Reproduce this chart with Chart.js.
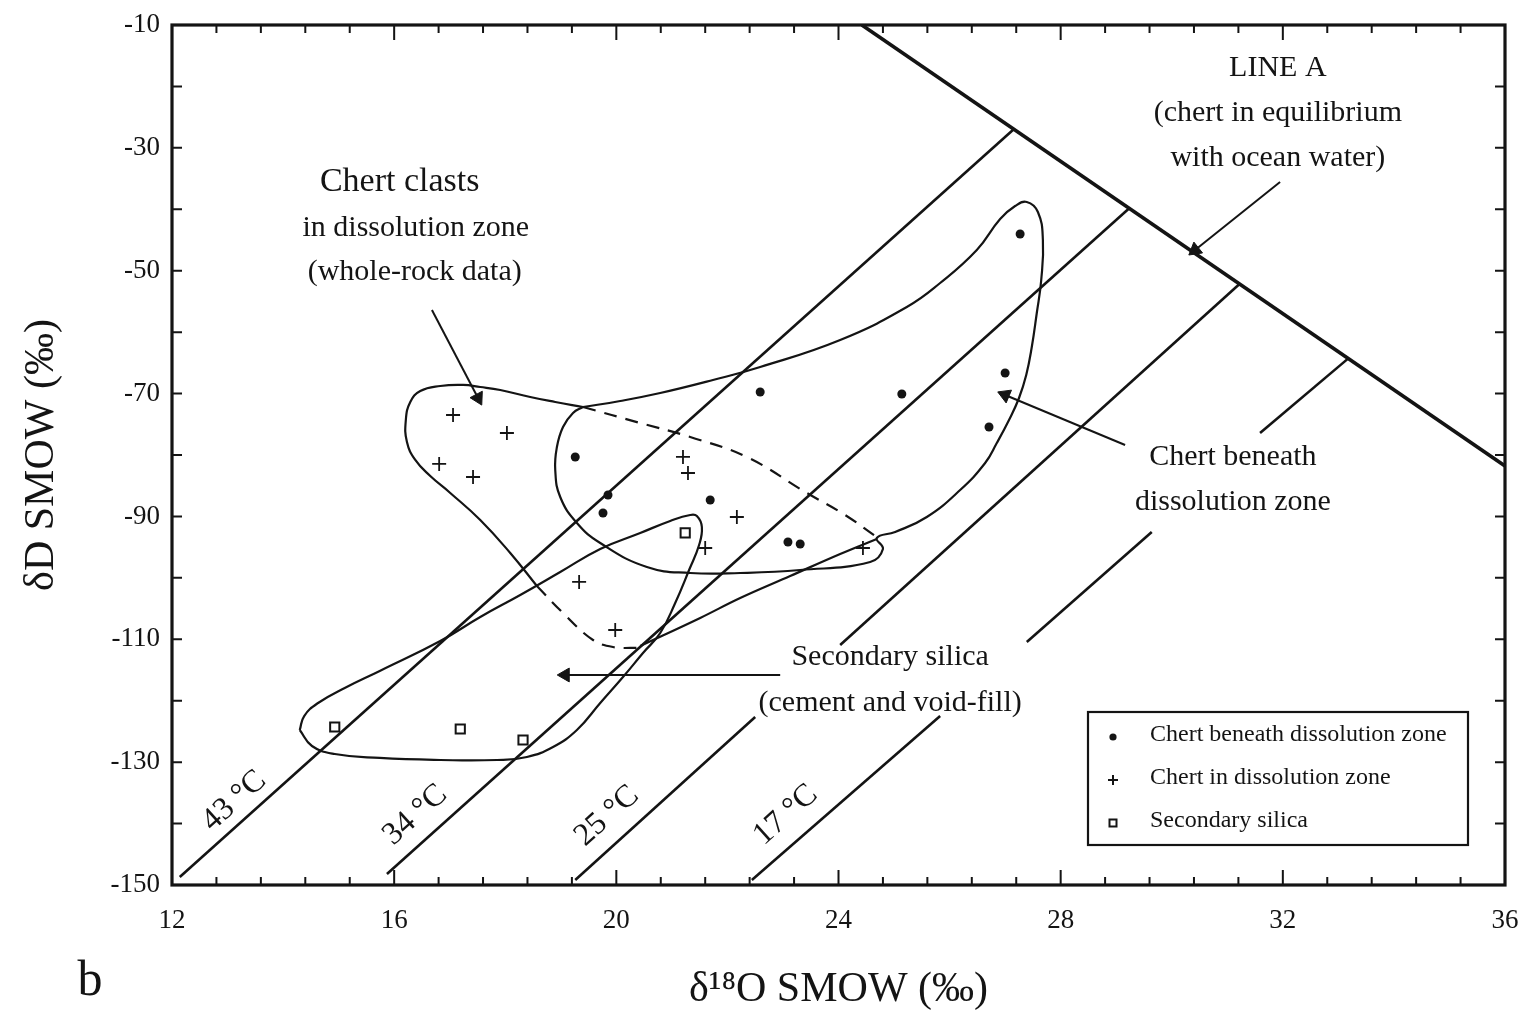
<!DOCTYPE html>
<html><head><meta charset="utf-8">
<script src="https://cdn.jsdelivr.net/npm/chart.js@4.4.1/dist/chart.umd.min.js"></script>
<style>html,body{margin:0;padding:0;background:#fff}#wrap{width:1534px;height:1011px}</style>
</head><body><div id="wrap"><canvas id="c" width="1534" height="1011"></canvas></div>
<script>
// ---------- axis ticks ----------
const xTickValues = [12, 16, 20, 24, 28, 32, 36];
const xTickLabels = ['12', '16', '20', '24', '28', '32', '36'];
const yTickValues = [-150, -130, -110, -90, -70, -50, -30, -10];
const yTickLabels = ['-150', '-130', '-110', '-90', '-70', '-50', '-30', '-10'];

// ---------- samples [d18O, dD] ----------
const chertBeneath = [[27.27,-44.02],[22.59,-69.74],[25.14,-70.07],[27.00,-66.65],[26.71,-75.44],
  [19.26,-80.32],[19.85,-86.51],[19.76,-89.44],[21.69,-87.32],[23.09,-94.16],[23.31,-94.49]];
const chertInZone = [[17.06,-73.49],[18.03,-76.42],[16.81,-81.46],[17.42,-83.58],[21.20,-80.32],
  [21.29,-82.93],[22.17,-90.09],[21.60,-95.14],[24.44,-95.14],[19.33,-100.67],[19.98,-108.49]];
const secondarySilica = [[21.24,-92.69],[14.93,-124.28],[17.19,-124.60],[18.32,-126.40]];

// ---------- reference lines ----------
const lineA = [[24.42,-10],[36,-81.79]];
const iso43 = [[12.14,-148.70],[27.16,-26.93]];
const iso34 = [[15.87,-148.21],[29.24,-39.79]];
const iso25a = [[19.26,-149.19],[22.50,-122.65]];
const iso25b = [[24.03,-110.93],[31.23,-52.08]];
const iso17a = [[22.44,-149.19],[25.83,-122.49]];
const iso17b = [[27.39,-110.44],[29.64,-92.53]];
const iso17c = [[31.59,-76.42],[33.19,-64.19]];

// ---------- field outlines ----------
const outlineBeneath = [[19.40,-72.19],[20.07,-71.21],[20.79,-69.91],[21.74,-67.79],[22.59,-65.67],[24.03,-61.28],
  [25.23,-55.91],[25.83,-52.00],[26.49,-46.63],[26.91,-41.58],[27.18,-39.47],[27.39,-38.81],[27.59,-40.44],
  [27.68,-45.00],[27.65,-51.51],[27.57,-56.88],[27.48,-62.42],[27.38,-66.98],[27.25,-70.72],[27.07,-74.30],
  [26.85,-78.05],[26.64,-81.30],[26.19,-85.70],[25.59,-90.09],[25.02,-92.53],[24.69,-93.51],[24.80,-95.30],
  [24.57,-97.42],[23.31,-98.72],[22.23,-99.21],[21.33,-99.21],[20.55,-98.23],[19.71,-94.33],[19.29,-91.07],
  [18.99,-86.84],[18.90,-82.44],[18.93,-78.70],[19.04,-75.44],[19.22,-73.16],[19.40,-72.19]];
const outlineClastsLobe = [[19.40,-72.19],[18.90,-71.37],[18.45,-70.56],[17.91,-69.42],[17.55,-68.93],[17.24,-68.60],
  [16.83,-68.77],[16.47,-69.58],[16.29,-71.37],[16.21,-74.30],[16.23,-77.88],[16.38,-80.81],[16.65,-83.42],
  [17.01,-86.18],[17.55,-90.58],[18.09,-95.95],[18.57,-101.33]];
const outlineClastsDashLow = [[18.57,-101.33],[19.04,-105.72],[19.58,-110.12],[19.94,-111.26],[20.43,-111.40]];
const outlineClastsTail = [[20.43,-111.09],[21.51,-106.53],[22.23,-103.28],[23.13,-99.70],[24.03,-96.12],[24.69,-93.67]];
const outlineClastsDashUp = [[19.40,-72.19],[20.43,-74.79],[21.33,-77.07],[22.35,-80.33],[23.43,-86.18],[24.12,-89.77],[24.66,-93.19]];
const outlineSecondary = [[14.30,-124.77],[14.38,-122.49],[14.63,-120.37],[15.11,-117.93],[15.74,-115.16],[16.83,-110.28],
  [17.55,-106.37],[18.27,-102.79],[18.99,-99.05],[19.71,-95.30],[20.43,-92.70],[20.97,-90.74],[21.33,-89.77],
  [21.45,-89.93],[21.54,-91.72],[21.49,-94.65],[21.31,-98.72],[21.06,-104.09],[20.79,-108.98],[20.48,-112.23],
  [20.12,-116.14],[19.71,-120.37],[19.29,-124.77],[18.86,-127.53],[18.39,-129.16],[17.85,-129.65],[16.83,-129.65],
  [15.74,-129.32],[14.93,-128.67],[14.52,-127.37],[14.30,-124.77]];

// ---------- annotation arrows [tail, head] ----------
const arrowClasts = [[16.68,-56.40],[17.51,-70.72]];
const arrowLineA = [[31.95,-35.56],[30.42,-46.63]];
const arrowBeneath = [[29.16,-78.37],[27.00,-70.23]];
const arrowSecondary = [[22.95,-115.81],[19.08,-115.81]];

const INK = '#141414';
const FONT = "'Liberation Serif', 'DejaVu Serif', serif";
Chart.defaults.color = INK;
Chart.defaults.font.family = FONT;

const pts = a => a.map(([x, y]) => ({x, y}));
function lineDS(label, arr, extra) {
  return Object.assign({label, data: pts(arr), showLine: true, pointRadius: 0, pointHoverRadius: 0,
    borderColor: INK, borderWidth: 2.2, fill: false, tension: 0, order: 2}, extra || {});
}
function arrowDS(label, arr) {
  return lineDS(label, arr, {
    borderWidth: 2,
    pointStyle: 'triangle',
    pointRadius: c => (c.dataIndex === c.dataset.data.length - 1 ? 8 : 0),
    pointBackgroundColor: INK, pointBorderColor: INK, pointBorderWidth: 1,
    pointRotation: c => {
      const d = c.dataset.data, i = c.dataIndex;
      if (i === 0) return 0;
      const sx = c.chart.scales.x, sy = c.chart.scales.y;
      const dx = sx.getPixelForValue(d[i].x) - sx.getPixelForValue(d[i - 1].x);
      const dy = sy.getPixelForValue(d[i].y) - sy.getPixelForValue(d[i - 1].y);
      return Math.atan2(dx, -dy) * 180 / Math.PI;
    }
  });
}

const datasets = [
  lineDS('Line A', lineA, {borderWidth: 3.6}),
  lineDS('43 °C', iso43, {borderWidth: 2.6}),
  lineDS('34 °C', iso34, {borderWidth: 2.6}),
  lineDS('25 °C', iso25a, {borderWidth: 2.6}),
  lineDS('25 °C (cont.)', iso25b, {borderWidth: 2.6}),
  lineDS('17 °C', iso17a, {borderWidth: 2.6}),
  lineDS('17 °C (cont.)', iso17b, {borderWidth: 2.6}),
  lineDS('17 °C (end)', iso17c, {borderWidth: 2.6}),
  lineDS('Field: chert beneath dissolution zone', outlineBeneath, {tension: 0.45}),
  lineDS('Field: chert clasts', outlineClastsLobe, {tension: 0.45}),
  lineDS('Field: chert clasts (overlap, lower)', outlineClastsDashLow, {tension: 0.4, borderDash: [13, 9]}),
  lineDS('Field: chert clasts (tail)', outlineClastsTail, {tension: 0.4}),
  lineDS('Field: chert clasts (overlap, upper)', outlineClastsDashUp, {tension: 0.4, borderDash: [13, 9]}),
  lineDS('Field: secondary silica', outlineSecondary, {tension: 0.45}),
  arrowDS('arrow clasts', arrowClasts),
  arrowDS('arrow line A', arrowLineA),
  arrowDS('arrow beneath', arrowBeneath),
  arrowDS('arrow secondary', arrowSecondary),
  {label: 'Chert beneath dissolution zone', data: pts(chertBeneath), pointStyle: 'circle', pointRadius: 4.5,
    pointHoverRadius: 4.5, backgroundColor: INK, borderColor: INK, borderWidth: 0, order: 0},
  {label: 'Chert in dissolution zone', data: pts(chertInZone), pointStyle: 'cross', pointRadius: 7,
    pointHoverRadius: 7, borderColor: INK, borderWidth: 1.8, order: 0},
  {label: 'Secondary silica', data: pts(secondarySilica), pointStyle: 'rect', pointRadius: 6.5,
    pointHoverRadius: 6.5, backgroundColor: '#fff', borderColor: INK, borderWidth: 2, order: 0}
];

const framePlugin = {
  id: 'frame',
  afterDatasetsDraw(chart) {
    const {ctx, chartArea: a, scales: {x: sx, y: sy}} = chart;
    ctx.save();
    ctx.strokeStyle = INK;
    ctx.lineWidth = 2;
    ctx.beginPath();
    for (let k = 0; k <= 30; k++) {
      const px = sx.getPixelForValue(12 + 0.8 * k);
      const L = (k % 5 === 0) ? 15 : 8;
      ctx.moveTo(px, a.bottom); ctx.lineTo(px, a.bottom - L);
      ctx.moveTo(px, a.top); ctx.lineTo(px, a.top + L);
    }
    for (let v = -150; v <= -10; v += 10) {
      const py = sy.getPixelForValue(v);
      ctx.moveTo(a.left, py); ctx.lineTo(a.left + 10, py);
      ctx.moveTo(a.right, py); ctx.lineTo(a.right - 10, py);
    }
    ctx.stroke();
    ctx.lineWidth = 3.2;
    ctx.strokeRect(a.left, a.top, a.right - a.left, a.bottom - a.top);
    ctx.restore();
  }
};

const notesPlugin = {
  id: 'notes',
  afterDraw(chart) {
    const {ctx, chartArea: a, scales: {x: sx, y: sy}} = chart;
    ctx.save();
    ctx.fillStyle = INK;
    ctx.textAlign = 'center';
    ctx.textBaseline = 'middle';
    const notes = [
      ['Chert clasts', 16.10, -35.56, 34],
      ['in dissolution zone', 16.39, -43.05, 30],
      ['(whole-rock data)', 16.37, -50.21, 30],
      ['LINE A', 31.91, -17.0, 30],
      ['(chert in equilibrium', 31.91, -24.33, 30],
      ['with ocean water)', 31.91, -31.65, 30],
      ['Chert beneath', 31.10, -80.33, 30],
      ['dissolution zone', 31.10, -87.65, 30],
      ['Secondary silica', 24.93, -112.88, 30],
      ['(cement and void-fill)', 24.93, -120.37, 30]
    ];
    notes.forEach(([t, x, y, s]) => {
      ctx.font = s + 'px ' + FONT;
      ctx.fillText(t, sx.getPixelForValue(x), sy.getPixelForValue(y));
    });
    const temps = [['43 °C', 13.12, -136.33], ['34 °C', 16.38, -138.60], ['25 °C', 19.83, -138.77], ['17 °C', 23.05, -138.60]];
    ctx.font = '32px ' + FONT;
    temps.forEach(([t, x, y]) => {
      ctx.save();
      ctx.translate(sx.getPixelForValue(x), sy.getPixelForValue(y));
      ctx.rotate(-42 * Math.PI / 180);
      ctx.fillText(t, 0, 0);
      ctx.restore();
    });
    // panel letter
    ctx.font = '50px ' + FONT;
    ctx.fillText('b', 90, 982);
    // legend box
    const bx = a.right - 417, by = a.bottom - 173, bw = 380, bh = 133;
    ctx.fillStyle = '#fff';
    ctx.fillRect(bx, by, bw, bh);
    ctx.strokeStyle = INK; ctx.lineWidth = 2.2;
    ctx.strokeRect(bx, by, bw, bh);
    ctx.fillStyle = INK;
    ctx.textAlign = 'left';
    ctx.font = '24px ' + FONT;
    const rows = [['Chert beneath dissolution zone', 'dot'], ['Chert in dissolution zone', 'plus'], ['Secondary silica', 'sq']];
    rows.forEach(([t, m], i) => {
      const cy = by + 23 + i * 43, cx = bx + 25;
      ctx.beginPath();
      if (m === 'dot') { ctx.arc(cx, cy + 2, 3.6, 0, Math.PI * 2); ctx.fill(); }
      else if (m === 'plus') { ctx.lineWidth = 2; ctx.moveTo(cx - 5, cy + 2); ctx.lineTo(cx + 5, cy + 2); ctx.moveTo(cx, cy - 3); ctx.lineTo(cx, cy + 7); ctx.stroke(); }
      else { ctx.lineWidth = 2; ctx.strokeRect(cx - 3.5, cy - 1.5, 7, 7); }
      ctx.fillText(t, bx + 62, cy);
    });
    ctx.restore();
  }
};

new Chart(document.getElementById('c'), {
  type: 'scatter',
  data: {datasets},
  options: {
    responsive: false,
    animation: false,
    events: [],
    layout: {padding: {top: 25, right: 29, left: 0, bottom: 0}},
    plugins: {legend: {display: false}, tooltip: {enabled: false}},
    scales: {
      x: {
        type: 'linear', min: 12, max: 36,
        afterBuildTicks: s => { s.ticks = xTickValues.map(v => ({value: v})); },
        afterFit: s => { s.height = 126; s.paddingLeft = 0; s.paddingRight = 0; },
        ticks: {callback: (v, i) => xTickLabels[i], font: {size: 27, family: FONT}, padding: 20, color: INK, maxRotation: 0},
        grid: {display: false, drawTicks: false},
        border: {display: false},
        title: {display: true, text: 'δ¹⁸O SMOW (‰)', color: INK, font: {size: 42, family: FONT, lineHeight: 1}, padding: {top: 0, bottom: 0}}
      },
      y: {
        type: 'linear', min: -150, max: -10,
        afterBuildTicks: s => { s.ticks = yTickValues.map(v => ({value: v})); },
        afterFit: s => { s.width = 172; s.paddingTop = 0; s.paddingBottom = 0; },
        ticks: {callback: (v, i) => yTickLabels[i], font: {size: 27, family: FONT}, padding: 12, color: INK},
        grid: {display: false, drawTicks: false},
        border: {display: false},
        title: {display: true, text: 'δD SMOW (‰)', color: INK, font: {size: 42, family: FONT, lineHeight: 1}, padding: {top: 21, bottom: 0}}
      }
    }
  },
  plugins: [framePlugin, notesPlugin]
});
</script></body></html>
